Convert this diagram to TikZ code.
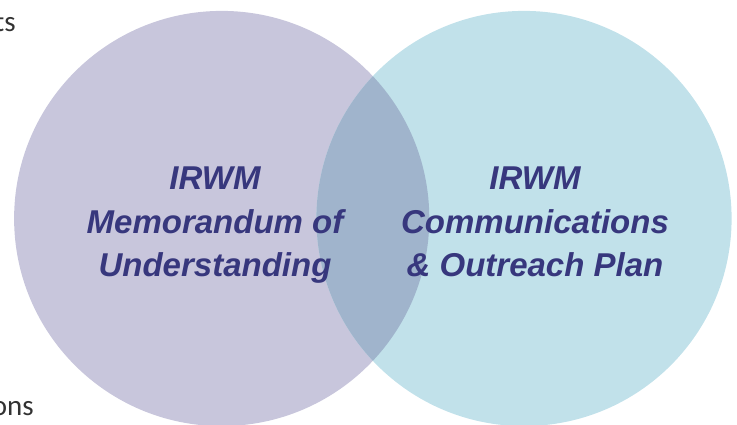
\documentclass[tikz,border=0pt]{standalone}
\usepackage{fontspec}
\setmainfont{Liberation Sans}
\newfontfamily\sidefont{Carlito}
\definecolor{leftfill}{RGB}{200,198,220}
\definecolor{rightfill}{RGB}{193,225,234}
\definecolor{bothfill}{RGB}{160,180,204}
\definecolor{titlecol}{RGB}{55,55,125}
\definecolor{sidecol}{RGB}{50,50,50}
\tikzset{
  title/.style={font=\fontsize{33}{38}\selectfont\bfseries\itshape, text=titlecol, inner sep=0pt, anchor=base},
  sidetext/.style={font=\sidefont\fontsize{29}{32}\selectfont, text=sidecol, inner sep=0pt, anchor=base east},
}
\begin{document}
\begin{tikzpicture}[x=1pt,y=-1pt]
\useasboundingbox (0,0) rectangle (737,424);
\coordinate (L) at (221.7,218.5);
\coordinate (R) at (524,218.5);
\def\rad{207.6}
% side text fragments (behind circles)
\node[sidetext] (ts) at (16,31) {ts};
\node[sidetext] (ons) at (34,415) {ons};
% circles
\fill[leftfill] (L) circle (\rad);
\fill[rightfill] (R) circle (\rad);
\begin{scope}
  \clip (L) circle (\rad);
  \fill[bothfill] (R) circle (\rad);
\end{scope}
% left text
\node[title] (l1) at (215,189) {IRWM};
\node[title] (l2) at (215,233) {Memorandum of};
\node[title] (l3) at (215,276) {Understanding};
% right text
\node[title] (r1) at (535,189) {IRWM};
\node[title] (r2) at (535,233) {Communications};
\node[title] (r3) at (535,276) {\& Outreach Plan};
\end{tikzpicture}
\end{document}
